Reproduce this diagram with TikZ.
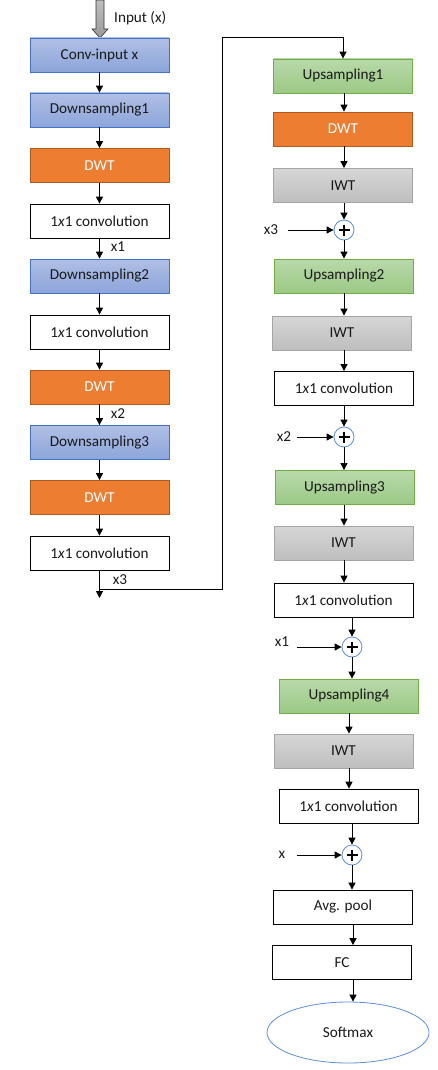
\documentclass[tikz,border=0pt]{standalone}
\usepackage{fontspec}
\setmainfont{Carlito}
\usetikzlibrary{arrows.meta,shapes.geometric,calc}
\definecolor{bluetop}{HTML}{B0BFE5}
\definecolor{bluebot}{HTML}{8CA5DA}
\definecolor{blueedge}{HTML}{4472C4}
\definecolor{greentop}{HTML}{B8D9A9}
\definecolor{greenbot}{HTML}{9CC986}
\definecolor{greenedge}{HTML}{70AD47}
\definecolor{orangefill}{HTML}{ED7D31}
\definecolor{orangeedge}{HTML}{AE5A21}
\definecolor{graytop}{HTML}{D6D6D6}
\definecolor{graybot}{HTML}{BEBEBE}
\definecolor{grayedge}{HTML}{A5A5A5}
\definecolor{circedge}{HTML}{5B8FD5}
\begin{document}
\begin{tikzpicture}[x=1pt,y=-1pt,
  every node/.style={font=\fontsize{15.2}{18}\selectfont, text=black!90},
  box/.style={rectangle, minimum width=139pt, minimum height=34pt, inner sep=0pt, line width=0.8pt},
  bluebox/.style={box, draw=blueedge, top color=bluetop, bottom color=bluebot},
  greenbox/.style={box, draw=greenedge, top color=greentop, bottom color=greenbot},
  orangebox/.style={box, draw=orangeedge, fill=orangefill, text=white},
  graybox/.style={box, draw=grayedge, top color=graytop, bottom color=graybot},
  whitebox/.style={box, draw=black, fill=white},
  plusc/.style={circle, draw=circedge, fill=white, minimum size=20pt, inner sep=0pt, line width=0.8pt},
  arr/.style={draw=black, line width=1pt, -{Triangle[length=7pt,width=7pt]}},
  lbl/.style={inner sep=0pt}
]
\useasboundingbox (0,0) rectangle (437,1070);

% input arrow
\shade[top color=gray!50, bottom color=gray!80, draw=gray!40!black, line width=0.6pt]
  (96,0) -- (104,0) -- (104,29) -- (108,29) -- (100,38) -- (92,29) -- (96,29) -- cycle;
\node[lbl, anchor=west] (inlbl) at (114,18) {Input (x)};

% left column
\node[bluebox] (convin) at (99.5,55) {Conv-input x};
\node[bluebox] (down1) at (99.5,110) {Downsampling1};
\node[orangebox] (dwt1) at (99.5,165.5) {DWT};
\node[whitebox] (c1) at (99.5,221) {1\textit{x}1 convolution};
\node[bluebox] (down2) at (99.5,276) {Downsampling2};
\node[whitebox] (c2) at (99.5,332) {1\textit{x}1 convolution};
\node[orangebox] (dwt2) at (99.5,387) {DWT};
\node[bluebox] (down3) at (99.5,442.5) {Downsampling3};
\node[orangebox] (dwt3) at (99.5,497.5) {DWT};
\node[whitebox] (c3) at (99.5,553) {1\textit{x}1 convolution};
\coordinate (lend) at (99.5,598);
\coordinate (br) at (99.5,589);
\coordinate (corner) at (222,38);

\draw[arr] (convin) -- (down1);
\draw[arr] (down1) -- (dwt1);
\draw[arr] (dwt1) -- (c1);
\draw[arr] (c1) -- (down2);
\draw[arr] (down2) -- (c2);
\draw[arr] (c2) -- (dwt2);
\draw[arr] (dwt2) -- (down3);
\draw[arr] (down3) -- (dwt3);
\draw[arr] (dwt3) -- (c3);
\draw[arr] (c3) -- (lend);

\node[lbl] (lx1) at (118,247) {x1};
\node[lbl] (lx2) at (118,414) {x2};
\node[lbl] (lx3) at (120,580) {x3};

% right column
\node[greenbox] (up1) at (343,76) {Upsampling1};
\node[orangebox] (rdwt) at (343,129) {DWT};
\node[graybox] (iwt1) at (343,185.5) {IWT};
\node[plusc] (p3) at (344,230) {};
\node[greenbox] (up2) at (344,276) {Upsampling2};
\node[graybox] (iwt2) at (342,333) {IWT};
\node[whitebox] (rc1) at (344,388.5) {1\textit{x}1 convolution};
\node[plusc] (p2) at (344,437) {};
\node[greenbox] (up3) at (344.5,487.5) {Upsampling3};
\node[graybox] (iwt3) at (343.5,543) {IWT};
\node[whitebox] (rc2) at (343.5,600) {1\textit{x}1 convolution};
\node[plusc] (p1) at (352,647) {};
\node[greenbox] (up4) at (349,696) {Upsampling4};
\node[graybox] (iwt4) at (343.5,751) {IWT};
\node[whitebox] (rc3) at (348.5,806) {1\textit{x}1 convolution};
\node[plusc] (p0) at (352,855) {};
\node[whitebox] (avg) at (343,907) {Avg. pool};
\node[whitebox] (fc) at (342,962.5) {FC};
\node[ellipse, draw=circedge, fill=white, line width=0.8pt, minimum width=162pt, minimum height=61pt, inner sep=0pt] (soft) at (348,1032.5) {Softmax};

% plus signs
\foreach \p in {p3,p2,p1,p0}{
  \draw[line width=1.6pt] ($(\p)+(-5.5,0)$) -- ($(\p)+(5.5,0)$);
  \draw[line width=1.6pt] ($(\p)+(0,-5.5)$) -- ($(\p)+(0,5.5)$);
}

% skip link from encoder to decoder
\draw[arr] (br) -| (corner) -| (up1.north);

% right arrows
\coordinate (xa) at (344,0);
\coordinate (xb) at (349,0);
\coordinate (xc) at (353,0);
\draw[arr] (up1.south -| xa) -- (rdwt.north -| xa);
\draw[arr] (rdwt.south -| xa) -- (iwt1.north -| xa);
\draw[arr] (iwt1.south -| xa) -- (p3.north);
\draw[arr] (p3.south) -- (up2.north -| xa);
\draw[arr] (up2.south -| xa) -- (iwt2.north -| xa);
\draw[arr] (iwt2.south -| xa) -- (rc1.north -| xa);
\draw[arr] (rc1.south -| xa) -- (p2.north);
\draw[arr] (p2.south) -- (up3.north -| xa);
\draw[arr] (up3.south -| xa) -- (iwt3.north -| xa);
\draw[arr] (iwt3.south -| xa) -- (rc2.north -| xa);
\draw[arr] (rc2.south -| p1) -- (p1.north);
\draw[arr] (p1.south) -- (up4.north -| p1);
\draw[arr] (up4.south -| xb) -- (iwt4.north -| xb);
\draw[arr] (iwt4.south -| xb) -- (rc3.north -| xb);
\draw[arr] (rc3.south -| p0) -- (p0.north);
\draw[arr] (p0.south) -- (avg.north -| p0);
\draw[arr] (avg.south -| xc) -- (fc.north -| xc);
\draw[arr] (fc.south -| xc) -- (soft.north -| xc);

% side inputs
\node[lbl] (rx3) at (271,230) {x3};
\node[lbl] (rx2) at (284,437) {x2};
\node[lbl] (rx1) at (282,642) {x1};
\node[lbl] (rx0) at (282,855) {x};
\coordinate (s3) at (288,230);
\coordinate (s2) at (297,437);
\coordinate (s1) at (297,647);
\coordinate (s0) at (297,855);
\draw[arr] (s3) -- (p3.west);
\draw[arr] (s2) -- (p2.west);
\draw[arr] (s1) -- (p1.west);
\draw[arr] (s0) -- (p0.west);
\end{tikzpicture}
\end{document}
